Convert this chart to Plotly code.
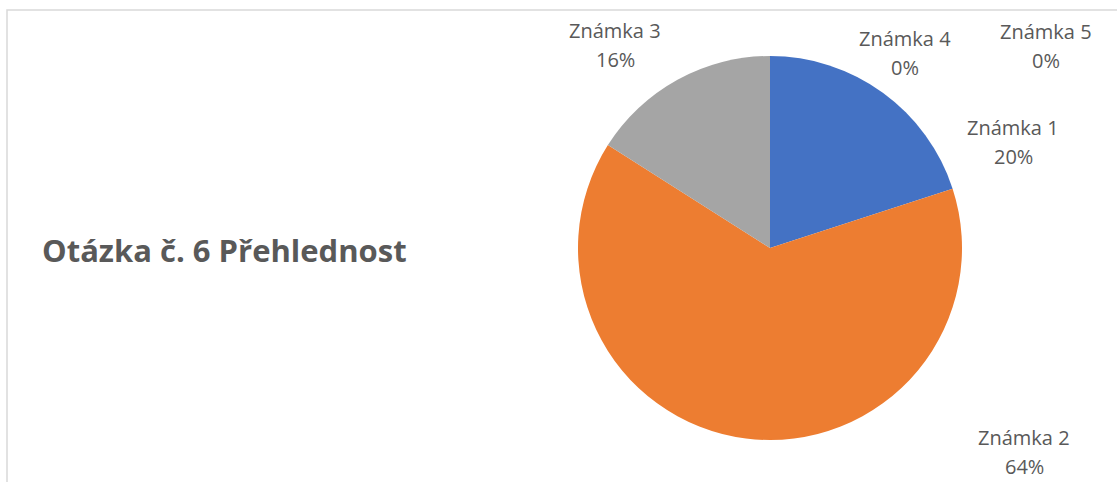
import plotly.graph_objects as go

# Data
labels = ["Známka 1", "Známka 2", "Známka 3", "Známka 4", "Známka 5"]
counts = [5, 16, 4, 0, 0]
colors = ["#4472C4", "#ED7D31", "#A5A5A5", "#FFC000", "#5B9BD5"]
title_text = "Otázka č. 6 Přehlednost"

W, H = 1117, 482
total = sum(counts)
pcts = [round(100 * c / total) for c in counts]

# label centre positions in pixels (layout)
label_pos = {
    "Známka 1": (1013, 142),
    "Známka 2": (1024, 452),
    "Známka 3": (615, 45),
    "Známka 4": (905, 53),
    "Známka 5": (1046, 46),
}

cx, cy, r = 770, 248, 192

fig = go.Figure(go.Pie(
    labels=labels,
    values=counts,
    marker=dict(colors=colors, line=dict(width=0)),
    sort=False,
    direction="clockwise",
    rotation=0,
    textinfo="none",
    hoverinfo="label+percent",
    showlegend=False,
    domain=dict(x=[(cx - r) / W, (cx + r) / W], y=[1 - (cy + r) / H, 1 - (cy - r) / H]),
))

font_label = dict(family="Open Sans, sans-serif", size=20, color="#595959")
annotations = []
for lab, p in zip(labels, pcts):
    px, py = label_pos[lab]
    annotations.append(dict(text=lab, x=px / W, y=1 - (py - 14.5) / H, xref="paper", yref="paper",
                            showarrow=False, font=font_label, xanchor="center", yanchor="middle"))
    annotations.append(dict(text=f"{p}%", x=px / W, y=1 - (py + 14.5) / H, xref="paper", yref="paper",
                            showarrow=False, font=font_label, xanchor="center", yanchor="middle"))

annotations.append(dict(text=f"<b>{title_text}</b>", x=40 / W, y=1 - 250 / H, xref="paper", yref="paper",
                        showarrow=False, xanchor="left", yanchor="middle",
                        font=dict(family="Open Sans, sans-serif", size=31, color="#595959")))

fig.update_layout(
    width=W, height=H,
    margin=dict(l=0, r=0, t=0, b=0),
    paper_bgcolor="white",
    plot_bgcolor="white",
    annotations=annotations,
    shapes=[dict(type="rect", xref="paper", yref="paper",
                 x0=7 / W, x1=1.05, y0=-0.05, y1=1 - 10 / H,
                 line=dict(color="#D9D9D9", width=1.5), fillcolor="rgba(0,0,0,0)", layer="below")],
)

fig.write_html("out.html", config={"displayModeBar": False},
               post_script="document.body.style.margin='0';document.body.style.overflow='hidden';")
